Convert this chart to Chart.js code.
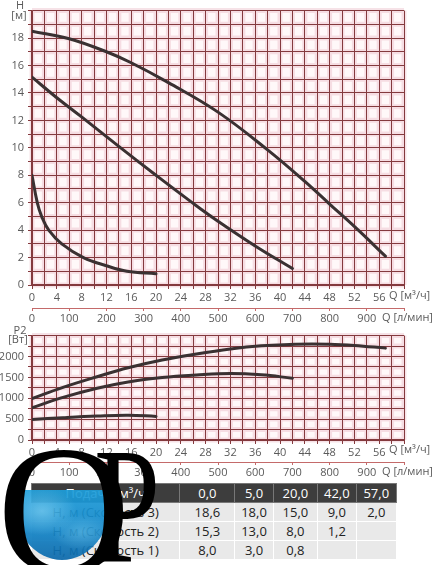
<!DOCTYPE html>
<html>
<head>
<meta charset="utf-8">
<script src="https://cdn.jsdelivr.net/npm/chart.js@4/dist/chart.umd.min.js"></script>
<style>
  html, body { margin: 0; padding: 0; background: #fff; }
  body { width: 436px; height: 565px; position: relative; overflow: hidden; font-family: "Open Sans", sans-serif; }
  canvas { position: absolute; left: 0; }
  #headChart { top: 0; }
  #powerChart { top: 325px; }
  #specTable {
    position: absolute; left: 31px; top: 483px; width: 366px;
    border-collapse: collapse; font-size: 13px; color: #222;
    border: 1px solid #9a9a9a;
  }
  #specTable td { height: 18px; padding: 0; text-align: center; border: 1px solid #fff; background: #e9e9e9; }
  #specTable tr.head td { background: #3d3d3d; color: #fff; border-color: #777; }
  #water {
    position: absolute; left: 12px; top: 490px; width: 100px; height: 70px; opacity: 0.92;
    border-radius: 0 0 50px 50px / 0 0 62px 62px;
    background:
      radial-gradient(ellipse at 30% 30%, rgba(140,220,250,0.55) 0%, rgba(140,220,250,0) 35%),
      radial-gradient(ellipse at 70% 60%, rgba(120,210,245,0.4) 0%, rgba(120,210,245,0) 30%),
      linear-gradient(180deg, #1e9fdc 0%, #1286c9 55%, #0b69ab 100%);
  }
  .logo { position: absolute; font-family: "Liberation Serif", "DejaVu Serif", serif; color: #000; line-height: 1; }
  #logoQ { left: -3px; top: 417px; font-size: 185px; }
  #logoP { left: 94px; top: 424px; font-size: 165px; transform: scaleX(0.72); transform-origin: 0 0; }
</style>
</head>
<body>
<canvas id="headChart" width="436" height="325"></canvas>
<canvas id="powerChart" width="436" height="157"></canvas>
<table id="specTable"></table>
<div id="water"></div>
<div class="logo" id="logoQ">Q</div>
<div class="logo" id="logoP">P</div>
<script>
// ====== Data ======
// H(Q) curves, Q in m³/h
const Q_SPEED3 = [0, 6, 12, 16, 22, 30, 38, 44, 48, 52.5, 57];
const H_SPEED3 = [18.5, 17.95, 17.0, 16.2, 14.75, 12.6, 9.85, 7.55, 5.9, 4.05, 2.1];
const Q_SPEED2 = [0, 4, 8, 14, 20, 26, 30, 36, 42];
const H_SPEED2 = [15.15, 13.65, 12.25, 10.1, 8.0, 5.95, 4.65, 2.85, 1.2];
const Q_SPEED1 = [0, 0.85, 1.55, 2.7, 4.8, 8.3, 12, 15.3, 20];
const H_SPEED1 = [8.0, 6.0, 5.0, 4.0, 3.0, 2.0, 1.4, 1.0, 0.82];

// P2(Q) curves, W
const PQ_SPEED3 = [0, 5, 10.5, 15.5, 21, 26.5, 32, 37, 42.5, 48, 52, 57];
const P_SPEED3 = [990, 1260, 1515, 1730, 1915, 2060, 2180, 2255, 2295, 2295, 2265, 2200];
const PQ_SPEED2 = [0, 5, 10.5, 15.5, 21, 26.5, 32, 37, 42];
const P_SPEED2 = [770, 1020, 1240, 1390, 1495, 1555, 1590, 1560, 1480];
const PQ_SPEED1 = [0, 5, 10.5, 15.5, 20];
const P_SPEED1 = [490, 535, 575, 595, 565];

// table
const TABLE_HEAD = 'Подача, м³/ч';
const TABLE_Q = ['0,0', '5,0', '20,0', '42,0', '57,0'];
const TABLE_LABELS = ['Н, м (Скорость 3)', 'Н, м (Скорость 2)', 'Н, м (Скорость 1)'];
const TABLE_S3 = ['18,6', '18,0', '15,0', '9,0', '2,0'];
const TABLE_S2 = ['15,3', '13,0', '8,0', '1,2', ''];
const TABLE_S1 = ['8,0', '3,0', '0,8', '', ''];

// ====== Style ======
const GRID = '#843a3e';
const CURVE = '#3a3132';
const TICK_TEXT = '#5a5a5a';
const FONT = { family: 'Open Sans', size: 11 };

// ====== Helpers ======
function toPoints(xs, ys) {
  return xs.map((x, i) => ({ x, y: ys[i] }));
}

function curve(xs, ys) {
  return {
    data: toPoints(xs, ys),
    borderColor: CURVE,
    borderWidth: 3,
    borderCapStyle: 'round',
    pointRadius: 0,
    tension: 0.4,
    fill: false
  };
}

// pink paper under the grid
const gridPaper = {
  id: 'gridPaper',
  beforeDraw(chart) {
    const { ctx, chartArea: a, scales } = chart;
    ctx.save();
    ctx.fillStyle = '#fff8f9';
    ctx.fillRect(a.left, a.top, a.right - a.left, a.bottom - a.top);
    ctx.strokeStyle = 'rgba(225,160,175,0.3)';
    ctx.lineWidth = 5;
    ctx.beginPath();
    scales.x.ticks.forEach(t => {
      const px = scales.x.getPixelForValue(t.value);
      ctx.moveTo(px, a.top); ctx.lineTo(px, a.bottom);
    });
    scales.y.ticks.forEach(t => {
      const py = scales.y.getPixelForValue(t.value);
      ctx.moveTo(a.left, py); ctx.lineTo(a.right, py);
    });
    ctx.stroke();
    ctx.restore();
  }
};

// axis titles drawn as plain text
const axisNotes = {
  id: 'axisNotes',
  afterDraw(chart, args, opts) {
    const ctx = chart.ctx;
    ctx.save();
    ctx.fillStyle = TICK_TEXT;
    ctx.font = '11px "Open Sans"';
    ctx.textBaseline = 'middle';
    (opts.items || []).forEach(it => {
      ctx.textAlign = it.align || 'left';
      ctx.fillText(it.text, it.x, it.y);
    });
    ctx.restore();
  }
};

function baseScales(yMax, yStep, yLabelStep, xHeight, x2Height) {
  return {
    x: {
      type: 'linear', position: 'bottom', min: 0, max: 60, weight: 0,
      grid: { color: GRID, lineWidth: 1, tickLength: 4, tickColor: GRID },
      border: { color: GRID, width: 2 },
      ticks: {
        stepSize: 2, autoSkip: false, maxRotation: 0, padding: 2,
        color: TICK_TEXT, font: FONT,
        callback: v => (v % 4 === 0 && v < 60) ? v : ''
      },
      afterFit: s => { s.height = xHeight; }
    },
    x2: {
      type: 'linear', position: 'bottom', min: 0, max: 1000, weight: 1,
      grid: { drawOnChartArea: false, tickLength: 3, color: '#c46a6a', tickColor: '#c46a6a' },
      border: { color: '#c46a6a', width: 1 },
      ticks: {
        stepSize: 100, autoSkip: false, maxRotation: 0, padding: 1,
        color: TICK_TEXT, font: FONT,
        callback: v => v < 1000 ? v : ''
      },
      afterFit: s => { s.height = x2Height; }
    },
    y: {
      type: 'linear', min: 0, max: yMax,
      grid: { color: GRID, lineWidth: 1, tickLength: 4, tickColor: GRID },
      border: { color: GRID, width: 1.5 },
      ticks: {
        stepSize: yStep, autoSkip: false, padding: 4,
        color: TICK_TEXT, font: FONT,
        callback: v => (v % yLabelStep === 0 && v < yMax) ? v : ''
      },
      afterFit: s => { s.width = 32; }
    }
  };
}

// ====== Head chart ======
new Chart(document.getElementById('headChart'), {
  type: 'line',
  data: {
    datasets: [
      curve(Q_SPEED3, H_SPEED3),
      curve(Q_SPEED2, H_SPEED2),
      curve(Q_SPEED1, H_SPEED1)
    ]
  },
  options: {
    responsive: false,
    animation: false,
    layout: { padding: { top: 7, right: 32, left: 0, bottom: 0 } },
    scales: baseScales(20, 1, 2, 23, 17),
    plugins: {
      legend: { display: false },
      tooltip: { enabled: false },
      axisNotes: {
        items: [
          { text: 'H', x: 20, y: 6, align: 'center' },
          { text: '[м]', x: 19, y: 16, align: 'center' },
          { text: 'Q [м³/ч]', x: 389, y: 296 },
          { text: 'Q [л/мин]', x: 382, y: 318 }
        ]
      }
    }
  },
  plugins: [gridPaper, axisNotes]
});

// ====== Power chart ======
new Chart(document.getElementById('powerChart'), {
  type: 'line',
  data: {
    datasets: [
      curve(PQ_SPEED3, P_SPEED3),
      curve(PQ_SPEED2, P_SPEED2),
      curve(PQ_SPEED1, P_SPEED1)
    ]
  },
  options: {
    responsive: false,
    animation: false,
    layout: { padding: { top: 9, right: 32, left: 0, bottom: 0 } },
    scales: baseScales(2500, 250, 500, 22, 20),
    plugins: {
      legend: { display: false },
      tooltip: { enabled: false },
      axisNotes: {
        items: [
          { text: 'P2', x: 20, y: 6, align: 'center' },
          { text: '[Вт]', x: 18, y: 15, align: 'center' },
          { text: 'Q [м³/ч]', x: 389, y: 125 },
          { text: 'Q [л/мин]', x: 382, y: 147 }
        ]
      }
    }
  },
  plugins: [gridPaper, axisNotes]
});

// ====== Table ======
function buildTable() {
  const table = document.getElementById('specTable');
  const widths = [151, 55, 38, 44, 38, 40];
  const rows = [
    { cls: 'head', cells: [TABLE_HEAD].concat(TABLE_Q) },
    { cls: '', cells: [TABLE_LABELS[0]].concat(TABLE_S3) },
    { cls: '', cells: [TABLE_LABELS[1]].concat(TABLE_S2) },
    { cls: '', cells: [TABLE_LABELS[2]].concat(TABLE_S1) }
  ];
  table.innerHTML = rows.map(r =>
    `<tr class="${r.cls}">` +
    r.cells.map((c, i) => `<td style="width:${widths[i]}px">${c}</td>`).join('') +
    `</tr>`
  ).join('');
}

window.addEventListener('DOMContentLoaded', buildTable);
</script>
</body>
</html>
